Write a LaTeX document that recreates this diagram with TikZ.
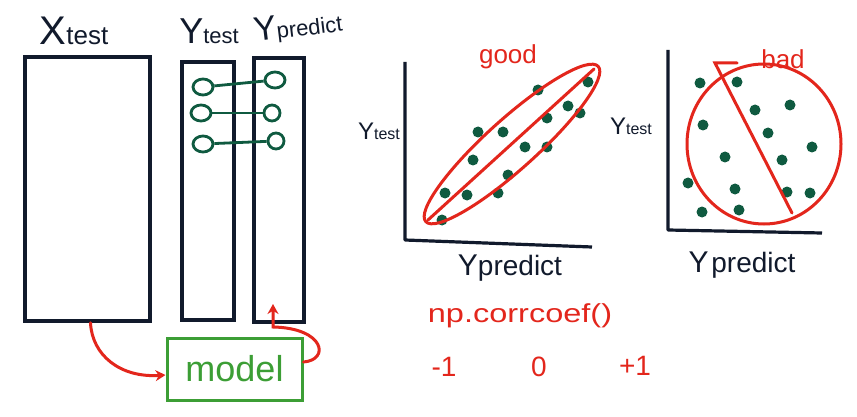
\documentclass[tikz,border=0pt]{standalone}
\usepackage{fontspec}
\setmainfont{Liberation Sans}
\usetikzlibrary{arrows.meta,shapes.geometric}
\definecolor{ink}{HTML}{111A2C}
\definecolor{dgreen}{HTML}{0F5A40}
\definecolor{rred}{HTML}{E3261C}
\definecolor{mgreen}{HTML}{3C9E35}
\newcommand{\fs}[1]{\fontsize{#1}{#1}\selectfont}
\tikzset{
  colbox/.style={draw=ink, line width=3.5pt, inner sep=0pt},
  ring/.style={draw=dgreen, ellipse, line width=2.8pt, minimum width=20pt, minimum height=16pt, inner sep=0pt},
  link/.style={draw=dgreen, line width=2.8pt},
  dot/.style={circle, fill=dgreen, minimum size=11pt, inner sep=0pt},
  axis/.style={draw=ink, line width=3.2pt, line join=round},
  redline/.style={draw=rred, line width=3pt, line cap=round},
  redarrow/.style={redline, -{Stealth[length=10pt,width=11pt]}},
  lbl/.style={text=ink, inner sep=0pt, anchor=center},
  redtxt/.style={text=rred, inner sep=0pt},
}
\begin{document}
\begin{tikzpicture}[x=1pt,y=-1pt]
\useasboundingbox[fill=white] (0,0) rectangle (857,417);

% column labels
\node[lbl] (xlab) at (74,31) {{\fs{40}X}{\fs{26}test}};
\node[lbl] (ytlab) at (209,31) {{\fs{36}Y}{\fs{22}test}};
\node[lbl, rotate=7] (yplab) at (298,27) {{\fs{34}Y}{\fs{22}predict}};

% columns
\node[colbox, minimum width=125pt, minimum height=264pt] (xbox) at (87.5,189) {};
\node[colbox, minimum width=52pt, minimum height=258pt] (ytbox) at (208,191) {};
\node[colbox, minimum width=50pt, minimum height=264pt] (ypbox) at (279,190) {};

% paired values
\node[ring] (l1) at (203,87) {};
\node[ring] (l2) at (201,113) {};
\node[ring] (l3) at (203,144) {};
\node[ring] (r1) at (275,80) {};
\node[ring, minimum width=16pt] (r2) at (272,113) {};
\node[ring, minimum width=16pt] (r3) at (276,141) {};
\draw[link] (l1) -- (r1);
\draw[link] (l2) -- (r2);
\draw[link] (l3) -- (r3);

% model
\node[draw=mgreen, line width=3pt, minimum width=135pt, minimum height=62pt, text=mgreen, font=\fs{36}] (model) at (234.5,369) {model};
\draw[redarrow] ([xshift=3pt]xbox.south) .. controls (92,355) and (120,378) .. ([yshift=-6pt]model.west);
\coordinate (turn) at (273,327);
\coordinate (tip) at (273,304);
\draw[redarrow] ([yshift=7pt]model.east) .. controls (330,360) and (325,328) .. (turn) -- (tip);

% good plot
\coordinate (gtop) at (405,62);
\coordinate (gorg) at (405,240);
\coordinate (gright) at (592,247);
\draw[axis] (gtop) -- (gorg) -- (gright);
\node[lbl] (gylab) at (379,131) {{\fs{24}Y}{\fs{16}test}};
\node[lbl] (gxlab) at (510,268) {{\fs{30}Y}{\fs{28}predict}};
\foreach \n/\x/\y in {1/588/82,2/538/90,3/568/106,4/580/113,5/547/118,6/478/132,7/503/132,8/525/147,9/547/147,10/473/160,11/508/175,12/445/193,13/467/195,14/498/193,15/442/220}
  \node[dot] (g\n) at (\x,\y) {};
\coordinate (lassoC) at (512,144);
\coordinate (lassoA) at (428,220);
\coordinate (lassoB) at (594,69);
\draw[redline, rotate around={42:(lassoC)}] (lassoC) ellipse [x radius=116pt, y radius=25pt];
\draw[redline] (lassoA) -- (lassoB);
\node[redtxt] (good) at (508,57) {\fs{26}good};

% bad plot
\coordinate (btop) at (668,50);
\coordinate (borg) at (668,230);
\coordinate (bright) at (822,233);
\draw[axis] (btop) -- (borg) -- (bright);
\node[lbl] (bylab) at (631,126) {{\fs{24}Y}{\fs{16}test}};
\node[lbl] (bxlab) at (742,265) {{\fs{30}Y} {\fs{28}predict}};
\foreach \n/\x/\y in {1/700/83,2/737/82,3/755/110,4/790/105,5/703/125,6/768/133,7/812/147,8/725/157,9/782/160,10/688/183,11/735/189,12/787/192,13/810/193,14/702/212,15/739/210}
  \node[dot] (b\n) at (\x,\y) {};
\coordinate (blobC) at (764,144);
\draw[redline] (blobC) ellipse [x radius=77pt, y radius=80pt];
\coordinate (splitA) at (715,63);
\coordinate (splitB) at (792,213);
\coordinate (hook) at (737,63);
\draw[redline] (hook) -- (splitA) -- (splitB);
\node[redtxt] (bad) at (783,59) {\fs{26}bad};

% correlation coefficient
\node[redtxt, xscale=1.25] (np) at (520,316) {\fs{26}np.corrcoef()};
\node[redtxt] (m1) at (444,367) {\fs{28}-1};
\node[redtxt] (z0) at (539,367) {\fs{28}0};
\node[redtxt] (p1) at (635,366) {\fs{28}+1};
\end{tikzpicture}
\end{document}
